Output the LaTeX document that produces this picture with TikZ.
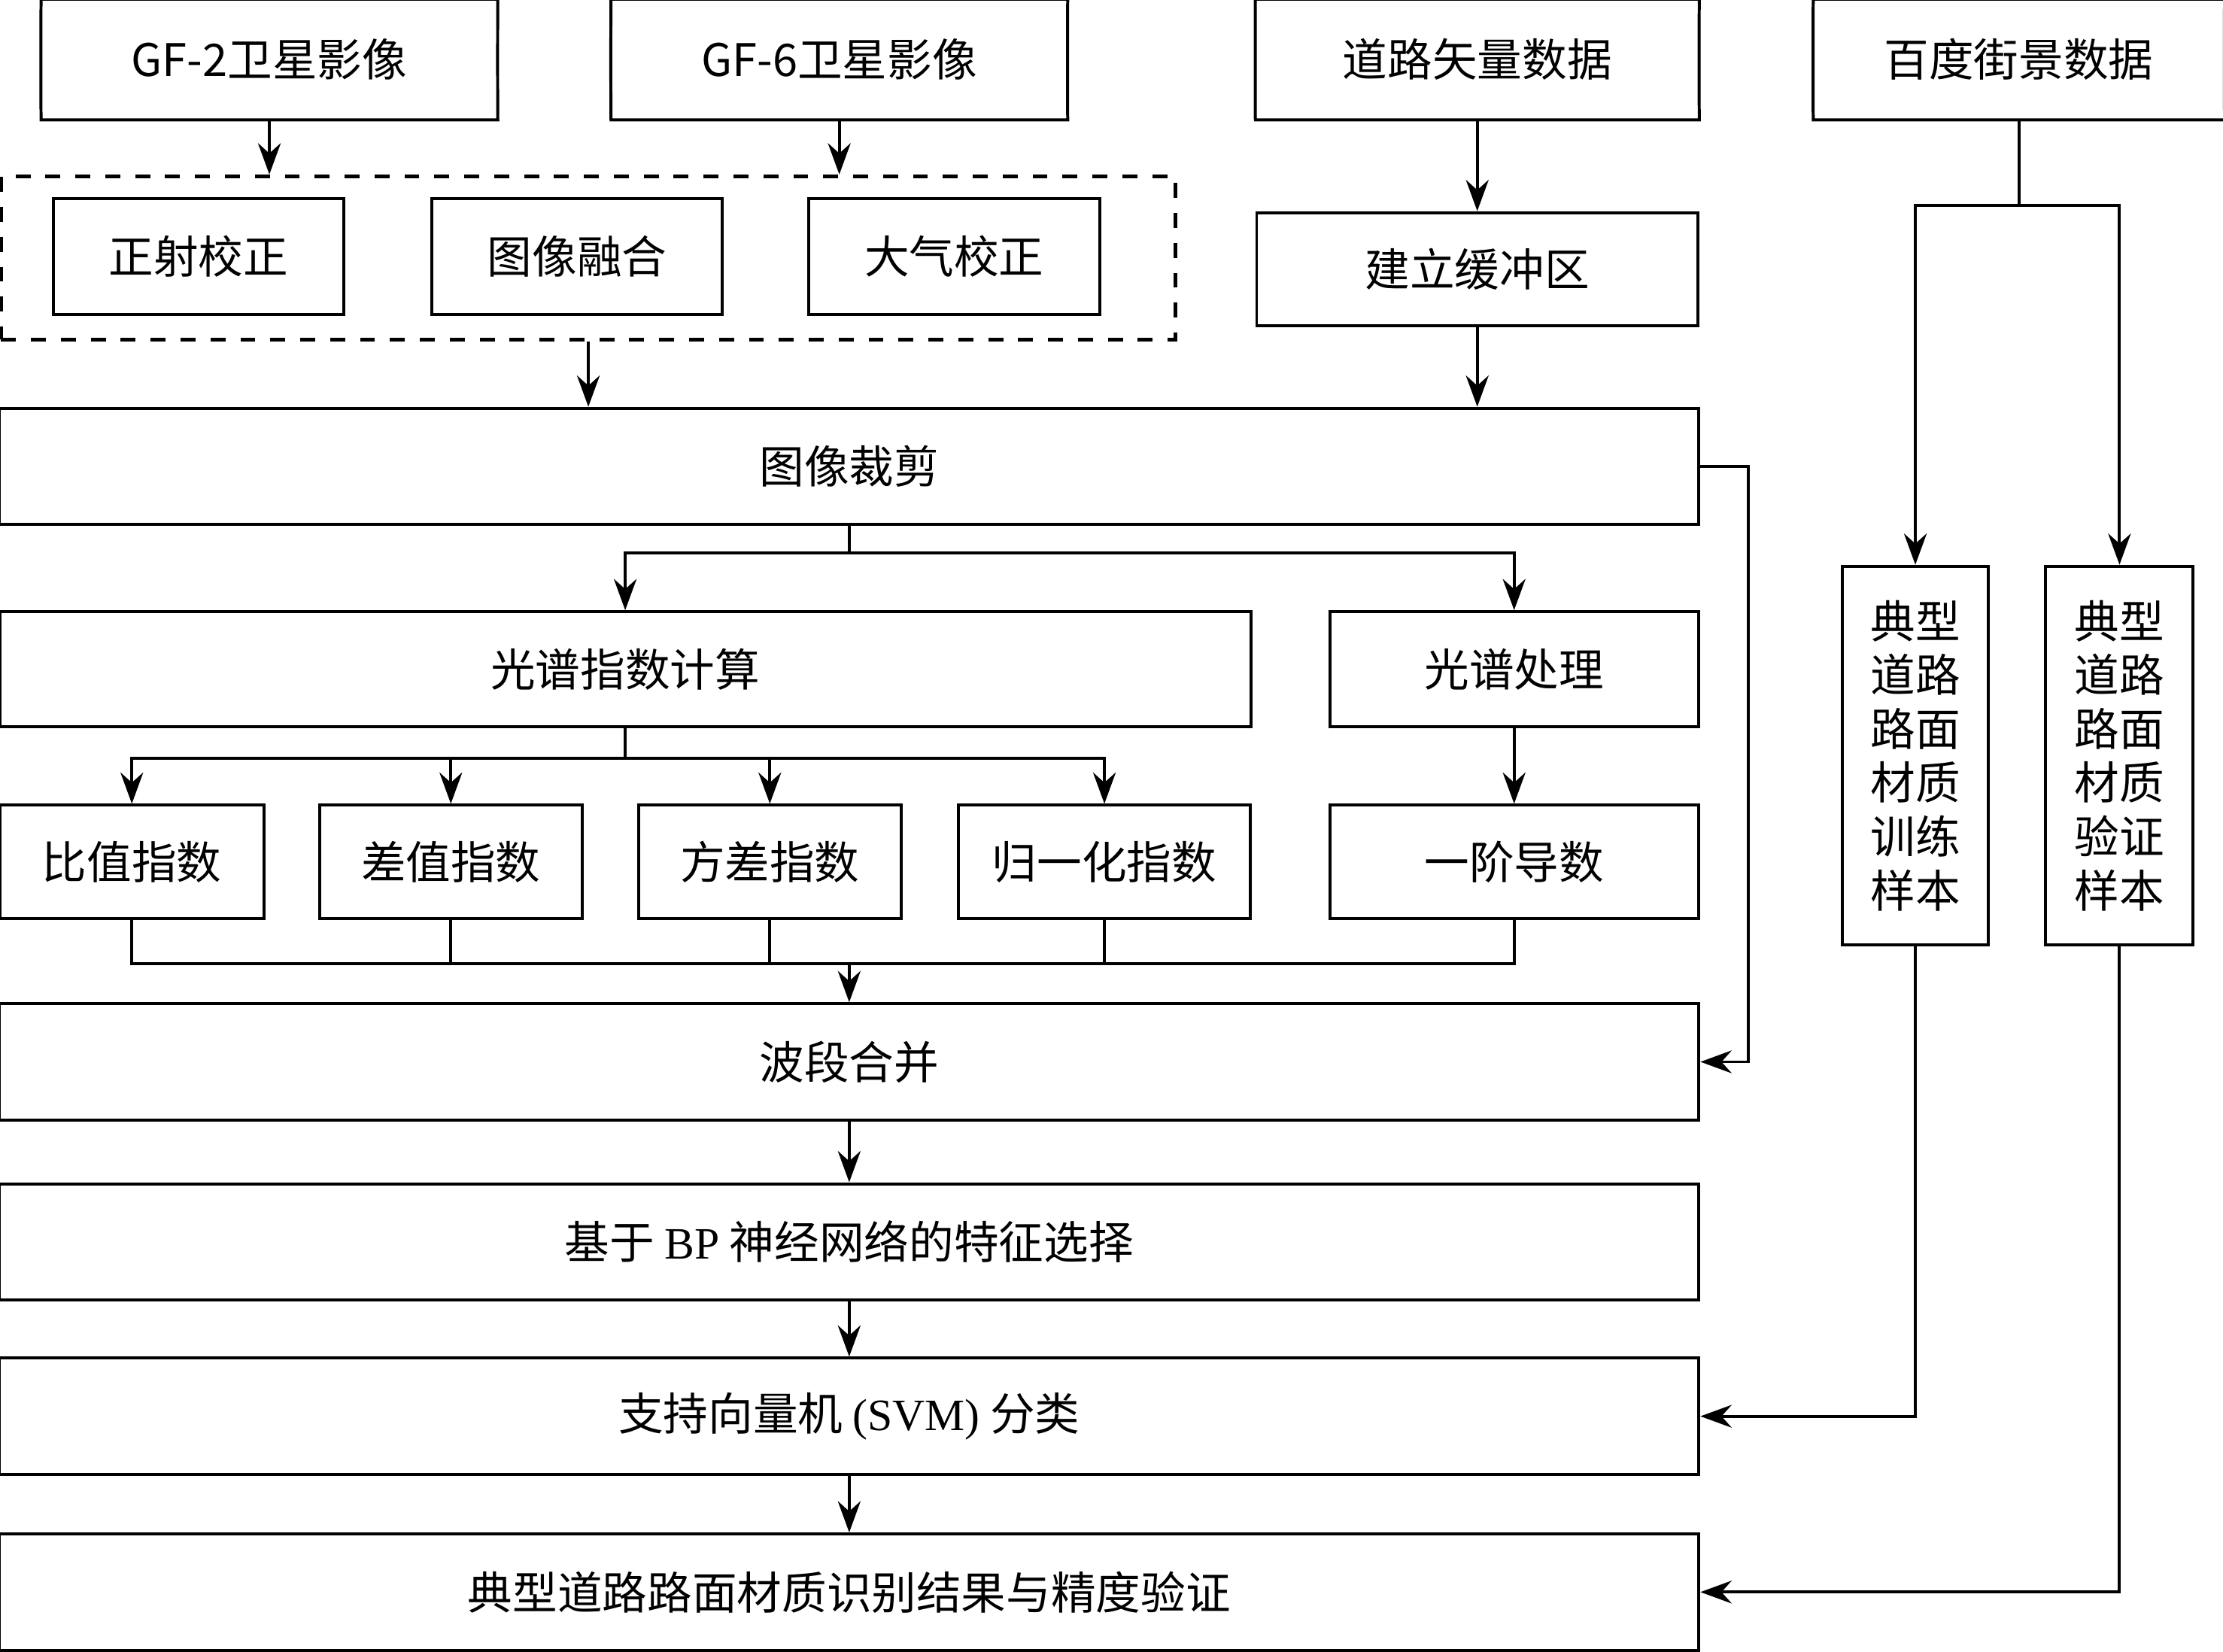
\documentclass[tikz,border=0pt]{standalone}
\usepackage{fontspec}
\setmainfont{Liberation Serif}
\newfontfamily\cjk{Noto Sans CJK SC}
\usetikzlibrary{arrows.meta,positioning,calc}
\tikzset{
  >=Stealth,
  every picture/.append style={line width=0.6pt},
  every node/.append style={font=\fontsize{9}{11}\selectfont\cjk},
}
\tikzset{
  box/.style={draw, inner sep=0pt, align=center},
  arrow/.style={-{Stealth[length=2.2mm,width=1.6mm]}},
  store/.style={inner sep=0pt}
}
\newcommand{\storeshape}[1]{%
  \draw ($(#1.north west)+(0.15,0)$) -- (#1.north east)
    .. controls ($(#1.north east)+(-0.2,-0.25)$) and ($(#1.south east)+(-0.2,0.25)$) .. (#1.south east)
    -- ($(#1.south west)+(0.15,0)$)
    .. controls ($(#1.south west)+(-0.05,0.25)$) and ($(#1.north west)+(-0.05,-0.25)$) .. ($(#1.north west)+(0.15,0)$);}
\begin{document}
\begin{tikzpicture}[x=0.01cm, y=-0.01cm]
\useasboundingbox (0,0) rectangle (1568,1165);
% input data
\node[store, minimum width=3.2cm, minimum height=0.83cm] (gf2) at (190,42) {GF-2{\cjk 卫星影像}};
\node[store, minimum width=3.2cm, minimum height=0.83cm] (gf6) at (592,42) {GF-6{\cjk 卫星影像}};
\node[store, minimum width=3.11cm, minimum height=0.83cm] (road) at (1042,42) {道路矢量数据};
\node[store, minimum width=2.88cm, minimum height=0.83cm] (bd) at (1424,42) {百度街景数据};
\foreach \n in {gf2,gf6,road,bd} {\storeshape{\n}}
% preprocessing
\node[draw, dashed, line width=0.8pt, minimum width=8.28cm, minimum height=1.15cm] (pre) at (415,182) {};
\node[box, minimum width=2.05cm, minimum height=0.82cm] (ortho) at (140,181) {正射校正};
\node[box, minimum width=2.05cm, minimum height=0.82cm] (fuse) at (407,181) {图像融合};
\node[box, minimum width=2.05cm, minimum height=0.82cm] (atm) at (673,181) {大气校正};
\node[box, minimum width=3.11cm, minimum height=0.8cm] (buf) at (1042,190) {建立缓冲区};
\node[box, minimum width=11.98cm, minimum height=0.82cm] (clip) at (599,329) {图像裁剪};
% spectral features
\node[box, minimum width=8.82cm, minimum height=0.81cm] (idx) at (441,472) {光谱指数计算};
\node[box, minimum width=2.6cm, minimum height=0.81cm] (spec) at (1068,472) {光谱处理};
\node[box, minimum width=1.86cm, minimum height=0.8cm] (ratio) at (93,608) {比值指数};
\node[box, minimum width=1.85cm, minimum height=0.8cm] (diff) at (318,608) {差值指数};
\node[box, minimum width=1.85cm, minimum height=0.8cm] (var) at (543,608) {方差指数};
\node[box, minimum width=2.06cm, minimum height=0.8cm] (norm) at (779,608) {归一化指数};
\node[box, minimum width=2.6cm, minimum height=0.8cm] (deriv) at (1068,608) {一阶导数};
% main chain
\node[box, minimum width=11.98cm, minimum height=0.82cm] (merge) at (599,749) {波段合并};
\node[box, minimum width=11.98cm, minimum height=0.82cm] (bp) at (599,876) {基于 {\rmfamily BP} 神经网络的特征选择};
\node[box, minimum width=11.98cm, minimum height=0.82cm] (svm) at (599,999) {支持向量机 {\rmfamily (SVM)} 分类};
\node[box, minimum width=11.98cm, minimum height=0.82cm] (res) at (599,1123) {典型道路路面材质识别结果与精度验证};
% samples
\node[box, minimum width=1.03cm, minimum height=2.67cm, font=\fontsize{9}{10.8}\selectfont\cjk] (train) at (1351,533) {典型\\道路\\路面\\材质\\训练\\样本};
\node[box, minimum width=1.04cm, minimum height=2.67cm, font=\fontsize{9}{10.8}\selectfont\cjk] (check) at (1495,533) {典型\\道路\\路面\\材质\\验证\\样本};
% connectors
\draw[arrow] (gf2.south) -- (gf2.south |- pre.north);
\draw[arrow] (gf6.south) -- (gf6.south |- pre.north);
\draw[arrow] (road) -- (buf);
\draw[arrow] (pre.south) -- (clip.north -| pre.south);
\draw[arrow] (buf) -- (clip.north -| buf);
\coordinate (bdj) at (1424,145);
\draw (bd.south) -- (bdj);
\draw[arrow] (bdj) -| (train.north);
\draw[arrow] (bdj) -| (check.north);
\coordinate (cj) at (599,390);
\draw (clip.south) -- (cj);
\draw[arrow] (cj) -| (idx.north -| 441,0);
\draw[arrow] (cj) -| (spec.north);
\coordinate (ij) at (441,535);
\draw (idx.south) -- (ij);
\foreach \n in {ratio,diff,var,norm} {\draw[arrow] (ij) -| (\n.north);}
\draw[arrow] (spec) -- (deriv);
\coordinate (mj) at (599,680);
\foreach \n in {ratio,diff,var,norm,deriv} {\draw (\n.south) |- (mj);}
\draw[arrow] (mj) -- (merge.north);
\draw[arrow] (clip.east) -- ++(34,0) |- (merge.east);
\draw[arrow] (merge) -- (bp);
\draw[arrow] (bp) -- (svm);
\draw[arrow] (svm) -- (res);
\draw[arrow] (train.south) |- (svm.east);
\draw[arrow] (check.south) |- (res.east);
\end{tikzpicture}
\end{document}
